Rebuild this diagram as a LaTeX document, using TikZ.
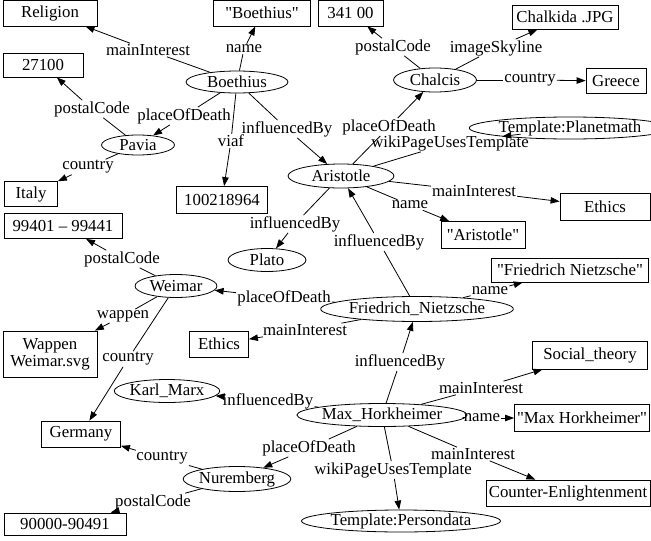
\documentclass[tikz,border=0pt]{standalone}
\usepackage{fontspec}
\setmainfont{Liberation Serif}[Ligatures=TeXOff]
\usetikzlibrary{arrows.meta,shapes.geometric}
\begin{document}
\begin{tikzpicture}[x=1pt,y=-1pt,
  every node/.style={font=\fontsize{16.8}{19}\selectfont},
  lit/.style={draw,rectangle,line width=0.8pt,minimum height=26pt,inner sep=0pt,align=center},
  res/.style={draw,ellipse,line width=0.8pt,minimum height=23pt,inner sep=0pt},
  lbl/.style={inner sep=1pt},
  ln/.style={line width=0.8pt},
  arr/.style={line width=0.8pt,-{Triangle[length=9pt,width=6.5pt]}}]
\useasboundingbox (0,0) rectangle (651,541);
% literal boxes
\node[lit,minimum width=94pt] (rel) at (50,13) {Religion};
\node[lit,minimum width=97pt] (boq) at (262,13) {"Boethius"};
\node[lit,minimum width=65pt] (p341) at (350.5,13) {341 00};
\node[lit,minimum width=106pt,minimum height=24pt] (chal) at (565,17) {Chalkida .JPG};
\node[lit,minimum width=60pt,minimum height=25pt] (gre) at (616,81) {Greece};
\node[lit,minimum width=80pt,minimum height=24pt] (p271) at (43,65) {27100};
\node[lit,minimum width=53pt,minimum height=25pt] (ita) at (31,194) {Italy};
\node[lit,minimum width=91pt,minimum height=27pt] (viafb) at (222,200) {100218964};
\node[lit,minimum width=118pt,minimum height=25pt] (p994) at (63,226) {99401 – 99441};
\node[lit,minimum width=59pt] (eth1) at (219,344) {Ethics};
\node[lit,minimum width=90pt,minimum height=27pt] (eth2) at (605,207) {Ethics};
\node[lit,minimum width=84pt,minimum height=27pt] (arq) at (483,235) {"Aristotle"};
\node[lit,minimum width=157pt,minimum height=24pt] (fnq) at (570,270) {"Friedrich Nietzsche"};
\node[lit,minimum width=115pt,minimum height=28pt] (soc) at (590,355) {Social\_theory};
\node[lit,minimum width=94pt,minimum height=46pt] (wap) at (50,354) {Wappen\\[-2pt]Weimar.svg};
\node[lit,minimum width=79pt] (ger) at (81,434) {Germany};
\node[lit,minimum width=135pt,minimum height=27pt] (mhq) at (582,418) {"Max Horkheimer"};
\node[lit,minimum width=164pt] (ctr) at (568,493) {Counter-Enlightenment};
\node[lit,minimum width=122pt,minimum height=22pt] (p900) at (65,524) {90000-90491};
% resources
\node[res,minimum width=102pt,minimum height=22pt] (boe) at (237,82) {Boethius};
\node[res,minimum width=73pt,minimum height=20pt] (pav) at (138,145) {Pavia};
\node[res,minimum width=83pt,minimum height=24pt] (chc) at (435,80) {Chalcis};
\node[res,minimum width=155pt,minimum height=22pt] (tpl) at (570,128) {Template:Planetmath};
\node[res,minimum width=106pt,minimum height=24pt] (ari) at (341,176) {Aristotle};
\node[res,minimum width=78pt] (pla) at (267,260) {Plato};
\node[res,minimum width=82pt] (wei) at (176,286) {Weimar};
\node[res,minimum width=154pt,minimum height=25pt] (fn) at (417,309) {Friedrich\_Nietzsche};
\node[res,minimum width=103pt] (km) at (167,391) {Karl\_Marx};
\node[res,minimum width=140pt,minimum height=23pt] (mh) at (382,415) {Max\_Horkheimer};
\node[res,minimum width=101pt,minimum height=25pt] (nur) at (237,479) {Nuremberg};
\node[res,minimum width=156pt,minimum height=22pt] (tpd) at (401,521) {Template:Persondata};
% edge labels
\node[lbl] (l1) at (148,50) {mainInterest};
\node[lbl] (l2) at (244,49) {name};
\node[lbl] (l3) at (184,116) {placeOfDeath};
\node[lbl] (l4) at (231,141) {viaf};
\node[lbl] (l5) at (287,129) {influencedBy};
\node[lbl] (l6) at (92,109) {postalCode};
\node[lbl] (l7) at (88,167) {country};
\node[lbl] (l8) at (393,47) {postalCode};
\node[lbl] (l9) at (496,48) {imageSkyline};
\node[lbl] (l10) at (530,80) {country};
\node[lbl] (l11) at (389,127) {placeOfDeath};
\node[lbl] (l12) at (450,143) {wikiPageUsesTemplate};
\node[lbl] (l13) at (474,191) {mainInterest};
\node[lbl] (l14) at (410,205) {name};
\node[lbl] (l15) at (295,224) {influencedBy};
\node[lbl] (l16) at (379,242) {influencedBy};
\node[lbl] (l17) at (284,298) {placeOfDeath};
\node[lbl] (l18) at (490,291) {name};
\node[lbl] (l19) at (305,330) {mainInterest};
\node[lbl] (l20) at (122,259) {postalCode};
\node[lbl] (l21) at (123,316) {wappen};
\node[lbl] (l22) at (128,359) {country};
\node[lbl] (l23) at (400,362) {influencedBy};
\node[lbl] (l24) at (481,388) {mainInterest};
\node[lbl] (l25) at (268,401) {influencedBy};
\node[lbl] (l26) at (482,418) {name};
\node[lbl] (l27) at (309,448) {placeOfDeath};
\node[lbl] (l28) at (473,454) {mainInterest};
\node[lbl] (l29) at (393,470) {wikiPageUsesTemplate};
\node[lbl] (l30) at (162,458) {country};
\node[lbl] (l31) at (153,502) {postalCode};
% edges
\foreach \s/\l/\t in {boe/l1/rel, boe/l2/boq, boe/l3/pav, boe/l4/viafb, boe/l5/ari,
  pav/l6/p271, pav/l7/ita, chc/l8/p341, chc/l9/chal, chc/l10/gre,
  ari/l11/chc, ari/l12/tpl, ari/l13/eth2, ari/l14/arq, ari/l15/pla,
  fn/l16/ari, fn/l17/wei, fn/l18/fnq, fn/l19/eth1,
  wei/l20/p994, wei/l21/wap, wei/l22/ger,
  mh/l23/fn, mh/l24/soc, mh/l25/km, mh/l26/mhq, mh/l27/nur, mh/l28/ctr, mh/l29/tpd,
  nur/l30/ger, nur/l31/p900}
{
  \draw[ln] (\s) -- (\l);
  \draw[arr] (\l) -- (\t);
}
\end{tikzpicture}
\end{document}
